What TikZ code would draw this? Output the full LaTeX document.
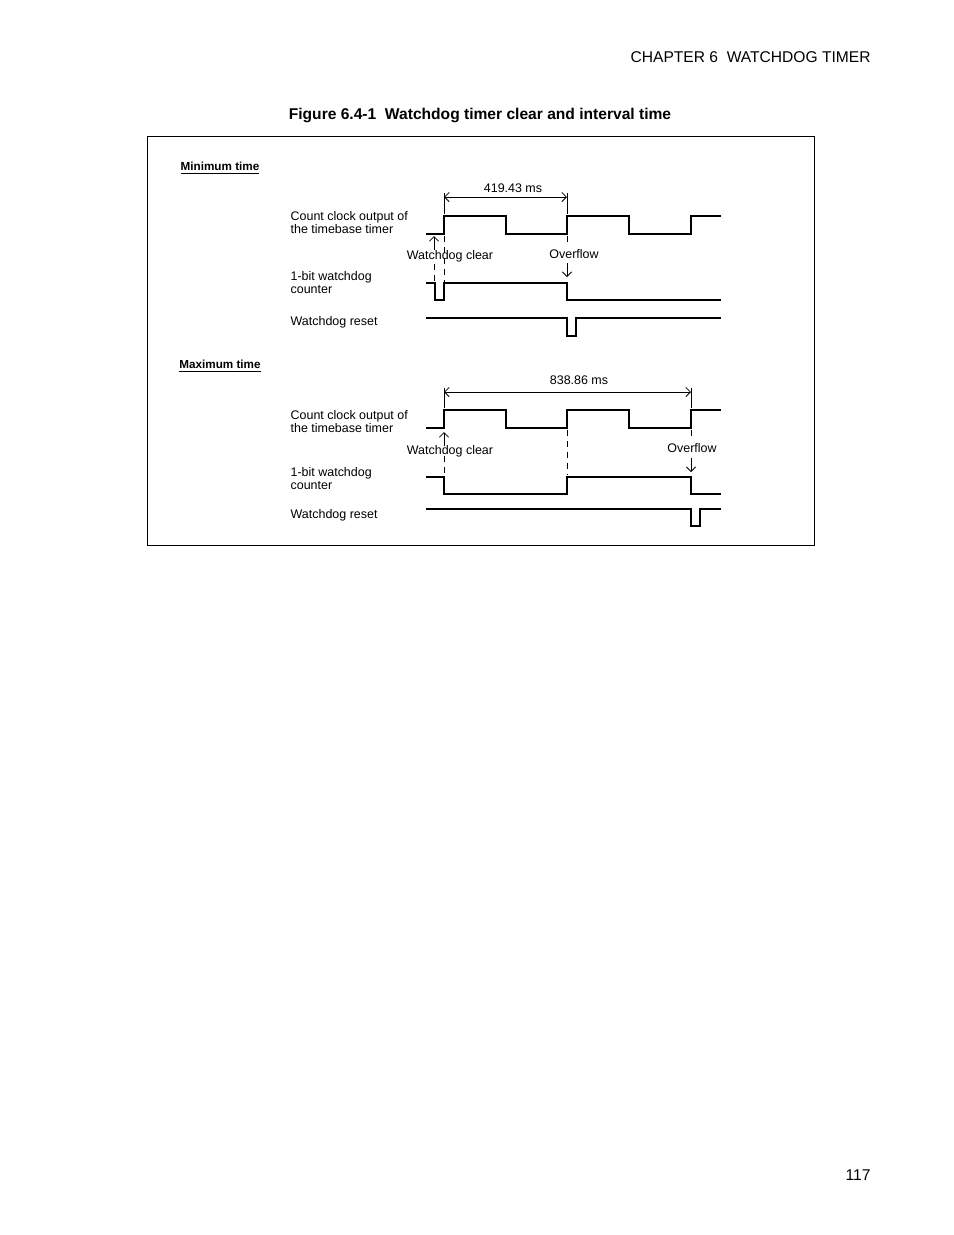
\documentclass[tikz,border=0pt]{standalone}
\usepackage{fontspec}
\setmainfont{Liberation Sans}
\usetikzlibrary{arrows.meta}
\tikzset{every picture/.style={line width=0.6pt}}
\tikzset{
  lbl/.style={anchor=north west,inner sep=0.75pt,align=left,font=\fontsize{8}{8.5}\selectfont},
  txt/.style={inner sep=0.75pt,font=\fontsize{8}{9}\selectfont},
  ttl/.style={inner sep=0.75pt,font=\fontsize{7.5}{9}\selectfont\bfseries},
  sig/.style={line width=0.8pt},
  guide/.style={dash pattern={on 4pt off 3pt},line width=0.5pt},
  dimline/.style={{Straight Barb[length=3pt]}-{Straight Barb[length=3pt]},line width=0.5pt},
  pointer/.style={-{Straight Barb[length=3pt]},line width=0.5pt}
}
\begin{document}
\begin{tikzpicture}[x=0.6415pt,y=0.6415pt,yscale=-1,xscale=1]
\useasboundingbox (0,0) rectangle (954,1235);

% Page header, caption and number
\node[anchor=east,inner sep=0pt,font=\fontsize{10}{12}\selectfont] (chap) at (871,57) {CHAPTER 6\ \ WATCHDOG TIMER};
\node[inner sep=0pt,font=\fontsize{10}{12}\selectfont\bfseries] (cap) at (480,115) {Figure 6.4-1\ \ Watchdog timer clear and interval time};
\node[anchor=east,inner sep=0pt,font=\fontsize{10}{12}\selectfont] (pnum) at (871,1175) {117};

% Frame
\draw[line width=0.5pt] (147,136) rectangle (814,545);

%% Minimum time
\node[ttl] (minT) at (220,168) {\underline{Minimum time}};
\node[lbl] (clk1) at (289,210) {Count clock output of\\the timebase timer};
\node[lbl] (cnt1) at (289,270) {1-bit watchdog\\counter};
\node[lbl] (rst1) at (289,315) {Watchdog reset};

% Clock
\draw[sig] (426,234) -- (444,234) -- (444,216) -- (506,216) -- (506,234) -- (567,234) -- (567,216) -- (629,216) -- (629,234) -- (691,234) -- (691,216) -- (721,216);
% Counter
\draw[sig] (426,283) -- (435,283) -- (435,300) -- (444,300) -- (444,283) -- (567,283) -- (567,300) -- (721,300);
% Reset
\draw[sig] (426,318) -- (567,318) -- (567,336) -- (576,336) -- (576,318) -- (721,318);

% Interval
\draw[line width=0.5pt] (444,193) -- (444,214) (567,193) -- (567,214);
\draw[dimline] (444,197) -- (567,197);
\node[txt] (t1) at (513,188) {419.43 ms};

% Clear and overflow
\draw[guide] (444,236) -- (444,282);
\draw[guide] (434,264) -- (434,290);
\draw[pointer] (434,250) -- (434,236);
\node[txt] (wc1) at (450,256) {Watchdog clear};
\draw[guide] (567,236) -- (567,246);
\node[txt] (ov1) at (574,254) {Overflow};
\draw[pointer] (567,263) -- (567,277);

%% Maximum time
\node[ttl] (maxT) at (220,366) {\underline{Maximum time}};
\node[lbl] (clk2) at (289,409) {Count clock output of\\the timebase timer};
\node[lbl] (cnt2) at (289,466) {1-bit watchdog\\counter};
\node[lbl] (rst2) at (289,508) {Watchdog reset};

% Clock
\draw[sig] (426,428) -- (444,428) -- (444,410) -- (506,410) -- (506,428) -- (567,428) -- (567,410) -- (629,410) -- (629,428) -- (691,428) -- (691,410) -- (721,410);
% Counter
\draw[sig] (426,477) -- (444,477) -- (444,494) -- (567,494) -- (567,477) -- (691,477) -- (691,494) -- (721,494);
% Reset
\draw[sig] (426,509) -- (691,509) -- (691,526) -- (700,526) -- (700,509) -- (721,509);

% Interval
\draw[line width=0.5pt] (444,388) -- (444,408) (691,388) -- (691,408);
\draw[dimline] (444,392) -- (691,392);
\node[txt] (t2) at (579,380) {838.86 ms};

% Clear and overflow
\draw[pointer] (444,446) -- (444,432);
\draw[guide] (444,456) -- (444,476);
\node[txt] (wc2) at (450,451) {Watchdog clear};
\draw[guide] (567,430) -- (567,475);
\draw[guide] (691,430) -- (691,440);
\node[txt] (ov2) at (692,448) {Overflow};
\draw[pointer] (691,458) -- (691,472);
\end{tikzpicture}
\end{document}
